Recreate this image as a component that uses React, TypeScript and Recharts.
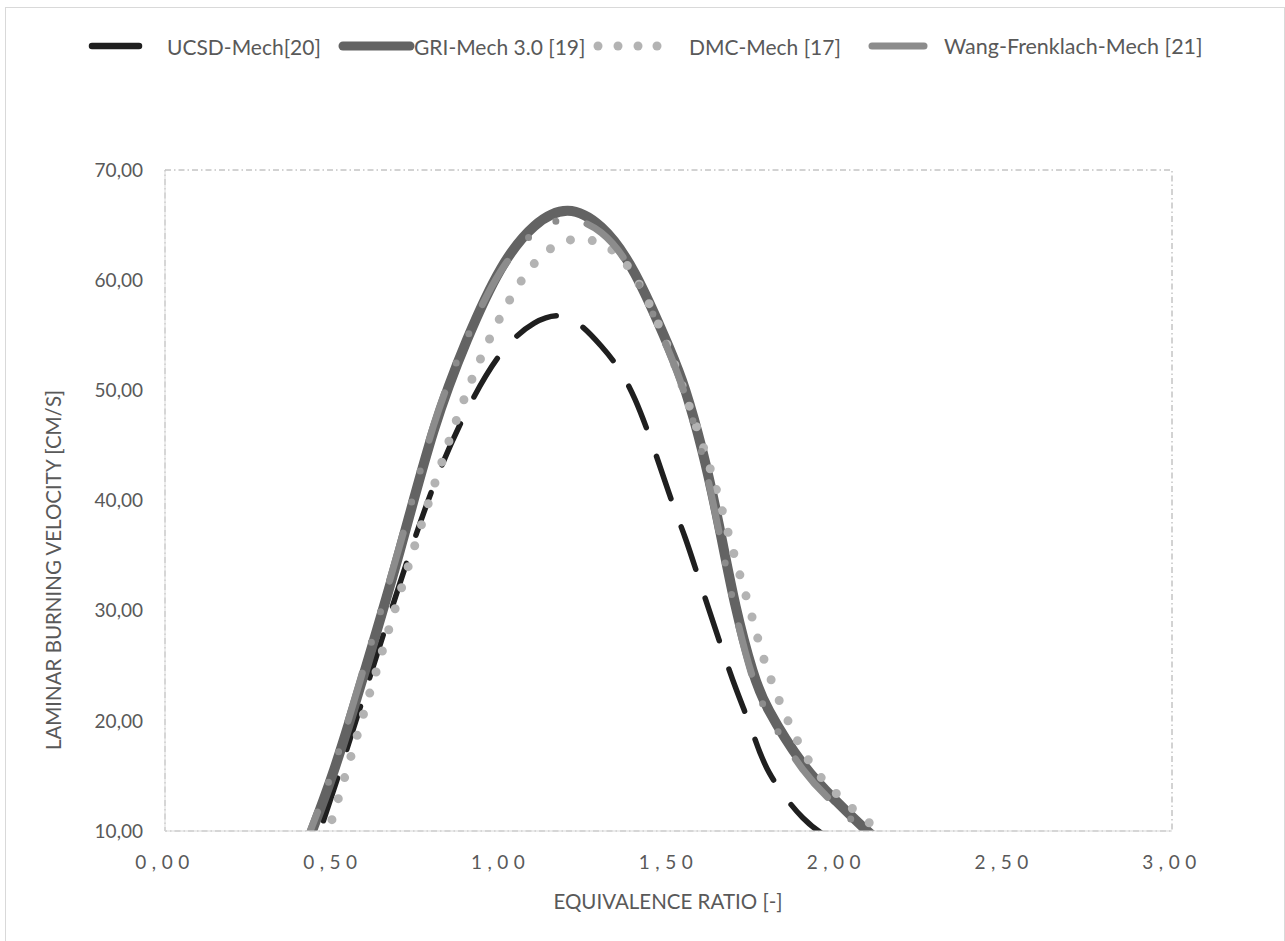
import React from 'react';
import { LineChart, Line, XAxis, YAxis, ReferenceArea } from 'recharts';

// equivalence ratio samples
const phi = [0.4, 0.5, 0.6, 0.7, 0.8, 0.9, 1.0, 1.1, 1.2, 1.3, 1.4, 1.5, 1.55, 1.6, 1.65, 1.7, 1.75, 1.8, 1.9, 2.0, 2.1, 2.2];

// laminar burning velocity [cm/s] per mechanism
const ucsdMech = [4.5, 13.5, 23.0, 32.5, 41.3, 48.2, 53.3, 56.1, 56.6, 54.0, 49.2, 40.8, 36.6, 32.0, 27.4, 23.0, 19.0, 15.3, 11.2, 9.0, 7.5, 6.5];
const griMech = [7.0, 15.2, 25.0, 35.5, 46.3, 54.6, 61.0, 64.9, 66.3, 64.8, 60.6, 54.0, 50.0, 44.6, 37.8, 30.4, 24.6, 20.9, 16.1, 12.7, 9.8, 7.5];
const dmcMech = [1.5, 11.3, 21.5, 31.6, 41.2, 49.9, 56.7, 61.5, 63.6, 63.3, 60.3, 53.8, 49.6, 45.2, 40.2, 34.6, 29.3, 24.2, 17.3, 13.4, 10.7, 8.5];
const wangMech = [7.5, 15.6, 25.6, 36.0, 46.8, 54.8, 60.8, 64.3, 65.5, 64.3, 60.3, 53.6, 49.5, 44.2, 37.2, 29.8, 24.0, 20.4, 15.6, 12.3, 9.6, 7.5];

const xTicks = [0, 0.5, 1, 1.5, 2, 2.5, 3];
const yTicks = [10, 20, 30, 40, 50, 60, 70];

const data = phi.map((p, i) => ({
  phi: p,
  ucsd: ucsdMech[i],
  gri: griMech[i],
  dmc: dmcMech[i],
  wang: wangMech[i],
}));

const fmt = (v: number) => v.toFixed(2).replace('.', ',');

const FONT = 'Lato, "Open Sans", sans-serif';
const TEXT = '#595959';

function LegendBar() {
  const y = 46;
  return (
    <svg width={1285} height={90} style={{ position: 'absolute', left: 0, top: 0 }}>
      <line x1={92} x2={139} y1={y} y2={y} stroke="#1f1f1f" strokeWidth={6.5} strokeLinecap="round" />
      <text x={167} y={y} dominantBaseline="central" fontSize={21} fill={TEXT} fontFamily={FONT}>UCSD-Mech[20]</text>
      <line x1={343} x2={410} y1={y} y2={y} stroke="#636363" strokeWidth={9} strokeLinecap="round" />
      <text x={414} y={y} dominantBaseline="central" fontSize={21} fill={TEXT} fontFamily={FONT}>GRI-Mech 3.0 [19]</text>
      {[598, 618, 638, 657].map((cx) => (
        <circle key={cx} cx={cx} cy={y} r={4.5} fill="#b3b3b3" />
      ))}
      <text x={689} y={y} dominantBaseline="central" fontSize={21} fill={TEXT} fontFamily={FONT}>DMC-Mech [17]</text>
      <line x1={872} x2={924} y1={y} y2={y} stroke="#8c8c8c" strokeWidth={7} strokeLinecap="round" />
      <text x={944} y={y} dominantBaseline="central" fontSize={21.5} fill={TEXT} fontFamily={FONT}>Wang-Frenklach-Mech [21]</text>
    </svg>
  );
}

export default function App() {
  return (
    <div style={{ position: 'absolute', left: 0, top: 0, width: 1285, height: 941, overflow: 'hidden', background: '#fff' }}>
      <div style={{ position: 'absolute', left: 5, top: 7, width: 1278, height: 1000, border: '1px solid #d9d9d9' }} />
      <LineChart
        width={1285}
        height={941}
        data={data}
        margin={{ top: 170, right: 113, bottom: 70, left: 0 }}
        style={{ position: 'absolute', left: 0, top: 0 }}
      >
        <XAxis
          type="number"
          dataKey="phi"
          domain={[0, 3]}
          ticks={xTicks}
          tickFormatter={fmt}
          allowDataOverflow
          height={40}
          tickLine={false}
          tickSize={0}
          tickMargin={25}
          axisLine={{ stroke: '#d9d9d9' }}
          tick={{ fontSize: 19, fill: TEXT, fontFamily: FONT, letterSpacing: 5.5 }}
          label={() => (
            <text x={668} y={901} textAnchor="middle" dominantBaseline="central" fontSize={20.5} fill={TEXT} fontFamily={FONT}>
              EQUIVALENCE RATIO [-]
            </text>
          )}
        />
        <YAxis
          type="number"
          domain={[10, 70]}
          ticks={yTicks}
          tickFormatter={fmt}
          allowDataOverflow
          width={165}
          tickLine={false}
          tickSize={0}
          tickMargin={22}
          axisLine={{ stroke: '#d9d9d9' }}
          tick={{ fontSize: 19, fill: TEXT, fontFamily: FONT }}
          label={() => (
            <text
              x={53}
              y={570}
              transform="rotate(-90 53 570)"
              textAnchor="middle"
              dominantBaseline="central"
              fontSize={20.5}
              fill={TEXT}
              fontFamily={FONT}
            >
              LAMINAR BURNING VELOCITY [CM/S]
            </text>
          )}
        />
        <ReferenceArea
          x1={0}
          x2={3}
          y1={10}
          y2={70}
          fill="none"
          fillOpacity={0}
          stroke="#a6a6a6"
          strokeDasharray="6 3 1.5 3"
        />
        <Line
          type="natural"
          dataKey="ucsd"
          stroke="#1f1f1f"
          strokeWidth={5.5}
          strokeDasharray="45 30"
          strokeLinecap="round"
          dot={false}
          activeDot={false}
          isAnimationActive={false}
        />
        <Line
          type="natural"
          dataKey="gri"
          stroke="#636363"
          strokeWidth={10}
          strokeLinecap="round"
          dot={false}
          activeDot={false}
          isAnimationActive={false}
        />
        <Line
          type="natural"
          dataKey="dmc"
          stroke="#b3b3b3"
          strokeWidth={9}
          strokeDasharray="0 22"
          strokeLinecap="round"
          dot={false}
          activeDot={false}
          isAnimationActive={false}
        />
        <Line
          type="natural"
          dataKey="wang"
          stroke="#8c8c8c"
          strokeWidth={7}
          strokeDasharray="50 32 0 32 0 32"
          strokeLinecap="round"
          dot={false}
          activeDot={false}
          isAnimationActive={false}
        />
      </LineChart>
      <LegendBar />
    </div>
  );
}
